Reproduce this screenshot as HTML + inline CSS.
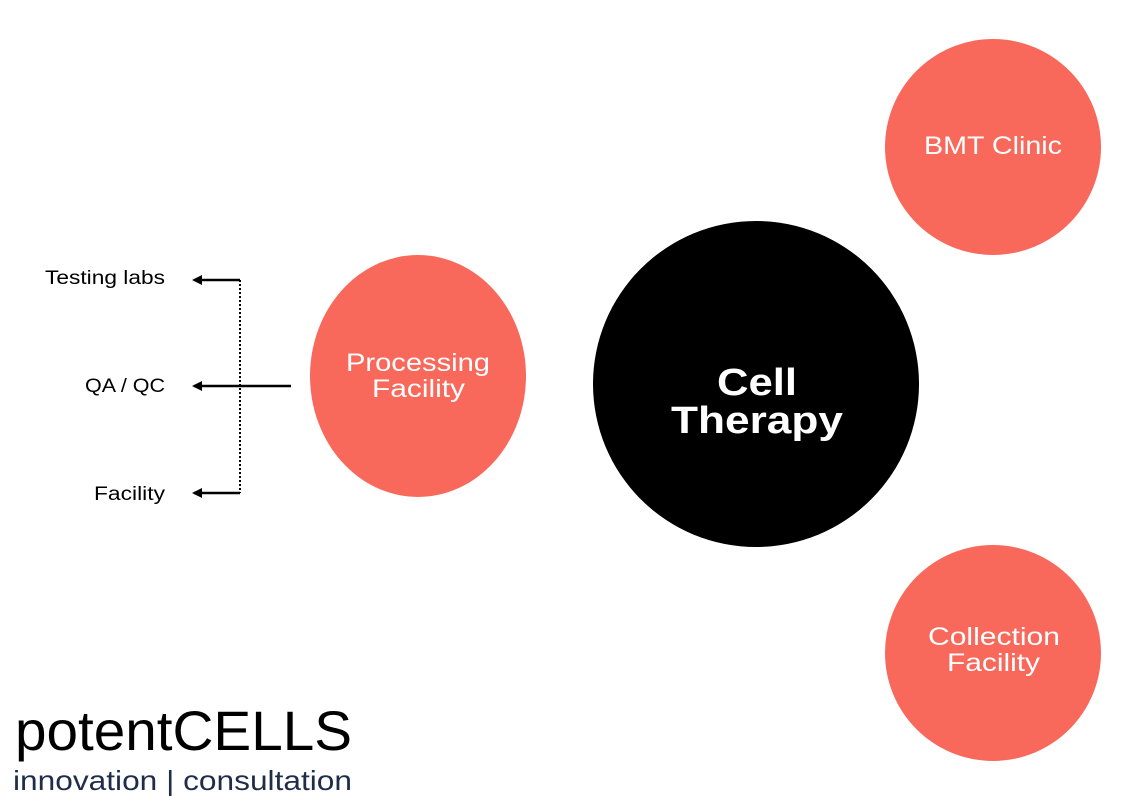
<!DOCTYPE html>
<html><head><meta charset="utf-8"><style>
html,body{margin:0;padding:0;background:#fff;}
svg{display:block}
</style></head><body>
<svg width="1147" height="807" viewBox="0 0 1147 807" xmlns="http://www.w3.org/2000/svg" font-family="Liberation Sans, sans-serif">
<defs>
<marker id="ah" markerWidth="12" markerHeight="12" refX="8" refY="5" orient="auto" markerUnits="userSpaceOnUse">
<path d="M0,0 L10,5 L0,10 Z" fill="#000"/>
</marker>
</defs>
<circle cx="993" cy="147" r="108" fill="#f8695c"/>
<circle cx="993" cy="653" r="108" fill="#f8695c"/>
<ellipse cx="418" cy="376" rx="108" ry="121" fill="#f8695c"/>
<circle cx="756" cy="384" r="163" fill="#000"/>
<text x="924" y="154" fill="#fff" font-size="25" textLength="138" lengthAdjust="spacingAndGlyphs">BMT Clinic</text>
<text x="928" y="645" fill="#fff" font-size="25" textLength="132" lengthAdjust="spacingAndGlyphs">Collection</text>
<text x="947" y="671" fill="#fff" font-size="25" textLength="93" lengthAdjust="spacingAndGlyphs">Facility</text>
<text x="346" y="371" fill="#fff" font-size="25" textLength="144" lengthAdjust="spacingAndGlyphs">Processing</text>
<text x="372" y="397" fill="#fff" font-size="25" textLength="93" lengthAdjust="spacingAndGlyphs">Facility</text>
<text x="717" y="395" fill="#fff" font-size="38" font-weight="bold" textLength="80" lengthAdjust="spacingAndGlyphs">Cell</text>
<text x="671" y="433" fill="#fff" font-size="38" font-weight="bold" textLength="172" lengthAdjust="spacingAndGlyphs">Therapy</text>
<line x1="240" y1="280" x2="240" y2="493" stroke="#000" stroke-width="2" stroke-dasharray="2,2"/>
<line x1="240" y1="280" x2="194" y2="280" stroke="#000" stroke-width="2.5" marker-end="url(#ah)"/>
<line x1="291" y1="386" x2="194" y2="386" stroke="#000" stroke-width="2.5" marker-end="url(#ah)"/>
<line x1="240" y1="493" x2="194" y2="493" stroke="#000" stroke-width="2.5" marker-end="url(#ah)"/>
<text x="45" y="284" font-size="19" fill="#000" textLength="120" lengthAdjust="spacingAndGlyphs">Testing labs</text>
<text x="85" y="392" font-size="19" fill="#000" textLength="80" lengthAdjust="spacingAndGlyphs">QA / QC</text>
<text x="94" y="500" font-size="19" fill="#000" textLength="71" lengthAdjust="spacingAndGlyphs">Facility</text>
<text x="15" y="750" font-size="56" fill="#000" textLength="337" lengthAdjust="spacingAndGlyphs">potentCELLS</text>
<text x="13" y="790" font-size="28" fill="#1f2d4a" textLength="339" lengthAdjust="spacingAndGlyphs">innovation | consultation</text>
</svg>
</body></html>
